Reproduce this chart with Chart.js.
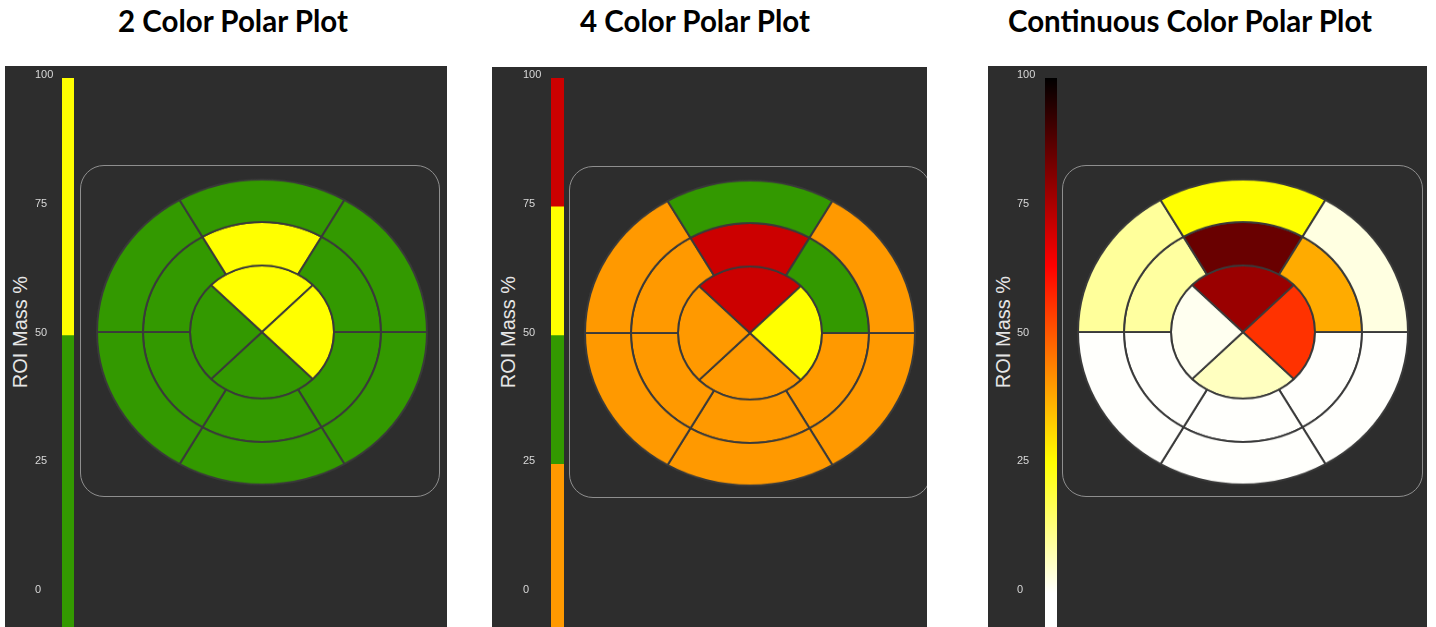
<!DOCTYPE html>
<html>
<head>
<meta charset="utf-8">
<script src="https://cdn.jsdelivr.net/npm/chart.js@4.4.1/dist/chart.umd.min.js"></script>
<style>
  body { margin: 0; width: 1436px; height: 627px; overflow: hidden; position: relative; background: #fff; }
  .title { position: absolute; top: 6px; font: bold 29.5px/29.5px Lato, sans-serif; color: #000; transform: translateX(-50%); white-space: nowrap; }
  .panel { position: absolute; background: #2d2d2d; overflow: hidden; }
  .frame { position: absolute; box-sizing: border-box; border: 1px solid #8e8e8e; border-radius: 24px; }
  .axis-title { position: absolute; color: #e6e6e6; font: 20px "Liberation Sans", Arial, sans-serif; white-space: nowrap; transform: translate(-50%, -50%) rotate(-90deg); }
  canvas { position: absolute; }
  .bull { transform: scaleY(0.924); }
</style>
</head>
<body>
<div class="title" style="left:233px">2 Color Polar Plot</div>
<div class="title" style="left:695px">4 Color Polar Plot</div>
<div class="title" style="left:1190px">Continuous Color Polar Plot</div>

<div class="panel" style="left:5px;top:66px;width:442px;height:561px">
  <div class="frame" style="left:75px;top:99px;width:360px;height:332px"></div>
  <div class="axis-title" style="left:15px;top:266px">ROI Mass %</div>
  <canvas id="bar2" width="39" height="606" style="left:30px;top:0"></canvas>
  <canvas id="bull2" class="bull" width="340" height="340" style="left:87px;top:96px"></canvas>
</div>

<div class="panel" style="left:492px;top:67px;width:435px;height:560px">
  <div class="frame" style="left:77px;top:99px;width:362px;height:332px"></div>
  <div class="axis-title" style="left:16px;top:265px">ROI Mass %</div>
  <canvas id="bar4" width="41" height="606" style="left:31px;top:-1px"></canvas>
  <canvas id="bull4" class="bull" width="340" height="340" style="left:88px;top:96px"></canvas>
</div>

<div class="panel" style="left:988px;top:66px;width:439px;height:561px">
  <div class="frame" style="left:74px;top:99px;width:361px;height:332px"></div>
  <div class="axis-title" style="left:15px;top:266px">ROI Mass %</div>
  <canvas id="barC" width="40" height="606" style="left:29px;top:0"></canvas>
  <canvas id="bullC" class="bull" width="340" height="340" style="left:85px;top:96px"></canvas>
</div>

<script>
// ROI mass % per segment
// outer and middle rings: six 60° segments, clockwise starting at 3 o'clock
const outerRing = [0.3, 0.3, 0.3, 10, 25.3, 3];
const middleRing = [0.3, 0.3, 0.3, 9.5, 85, 38];
// inner ring: four 90° segments, clockwise starting at 45° below 3 o'clock
const innerRing = [6.3, 1.5, 78, 56];

// colour bar scale
const tickValues = [0, 25, 50, 75, 100];
const twoColorStops = [50];
const twoColors = ['#339900', '#ffff00'];
const fourColorStops = [25, 50, 75];
const fourColors = ['#ff9900', '#339900', '#ffff00', '#cc0000'];
// reversed "hot" map: value -> colour breakpoints
const hotValues = [0, 25.4, 63.5, 100];
const hotColors = [[255, 255, 255], [255, 255, 0], [255, 0, 0], [0, 0, 0]];

const BAR_MIN = -14;
const LINE = '#3a3a3a';

Chart.defaults.font.family = '"Liberation Sans", Arial, sans-serif';

function stepColor(stops, colors) {
    return v => {
        let i = 0;
        while (i < stops.length && v >= stops[i]) i++;
        return colors[i];
    };
}

function hot(v) {
    for (let i = 1; i < hotValues.length; i++) {
        if (v <= hotValues[i]) {
            const f = (v - hotValues[i - 1]) / (hotValues[i] - hotValues[i - 1]);
            const c = hotColors[i - 1].map((a, k) => Math.round(a + (hotColors[i][k] - a) * f));
            return 'rgb(' + c.join(',') + ')';
        }
    }
    return 'rgb(0,0,0)';
}

function bullseye(id, colorOf) {
    const ring = (vals, rot, w) => ({
        data: vals.map(() => 1),
        backgroundColor: vals.map(colorOf),
        borderColor: LINE,
        borderWidth: 2,
        rotation: rot,
        weight: w
    });
    new Chart(document.getElementById(id), {
        type: 'doughnut',
        data: {
            labels: outerRing.map((_, i) => 'S' + (i + 1)),
            datasets: [
                ring(outerRing, 90, 46),
                ring(middleRing, 90, 47),
                ring(innerRing, 135, 72)
            ]
        },
        options: {
            responsive: false,
            animation: false,
            events: [],
            cutout: 0,
            radius: 165,
            plugins: { legend: { display: false }, tooltip: { enabled: false } }
        }
    });
}

function colorBar(id, datasets, axisWidth) {
    new Chart(document.getElementById(id), {
        type: 'bar',
        data: { labels: ['ROI'], datasets: datasets },
        options: {
            responsive: false,
            animation: false,
            events: [],
            layout: { padding: { top: 12 } },
            datasets: { bar: { barPercentage: 1, categoryPercentage: 1, grouped: false, borderWidth: 0 } },
            scales: {
                x: { display: false },
                y: {
                    min: BAR_MIN,
                    max: 100,
                    afterBuildTicks: s => { s.ticks = tickValues.map(v => ({ value: v })); },
                    afterFit: s => { s.width = axisWidth; },
                    grid: { display: false },
                    border: { display: false },
                    ticks: { color: '#d8d8d8', font: { size: 11 }, crossAlign: 'far', padding: 0, labelOffset: -3 }
                }
            },
            plugins: { legend: { display: false }, tooltip: { enabled: false } }
        }
    });
}

function bands(stops, colors) {
    const edges = [BAR_MIN].concat(stops, [100]);
    return colors.map((c, i) => ({ data: [[edges[i], edges[i + 1]]], backgroundColor: c }));
}

colorBar('bar2', bands(twoColorStops, twoColors), 27);
colorBar('bar4', bands(fourColorStops, fourColors), 28);
colorBar('barC', [{
    data: [[BAR_MIN, 100]],
    backgroundColor: ctx => {
        const chart = ctx.chart;
        if (!chart.chartArea) return '#fff';
        const y = chart.scales.y;
        const g = chart.ctx.createLinearGradient(0, y.getPixelForValue(0), 0, y.getPixelForValue(100));
        hotValues.forEach(v => g.addColorStop(v / 100, hot(v)));
        return g;
    }
}], 28);

bullseye('bull2', stepColor(twoColorStops, twoColors));
bullseye('bull4', stepColor(fourColorStops, fourColors));
bullseye('bullC', hot);
</script>
</body>
</html>
